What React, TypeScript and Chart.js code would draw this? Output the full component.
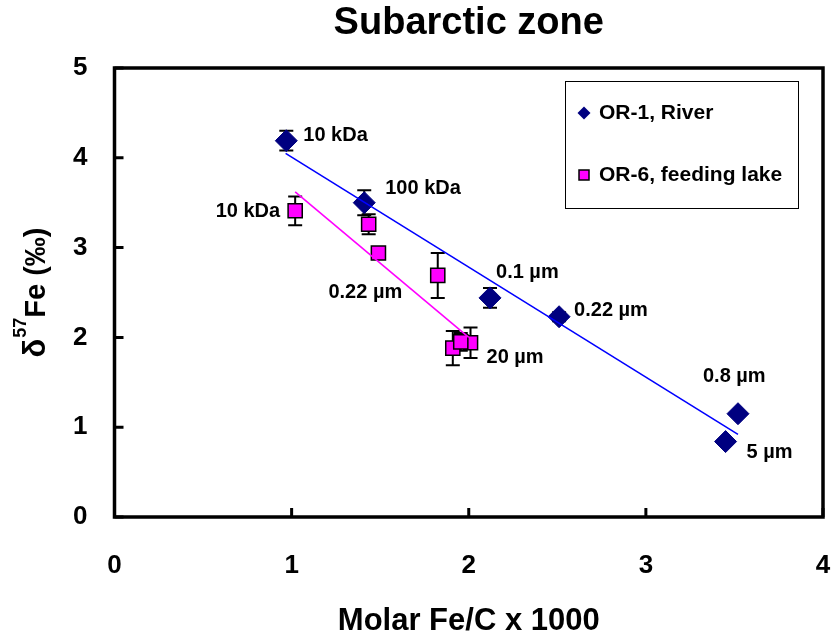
import React, { useEffect, useRef } from "react";
import { Chart, registerables } from "chart.js";

Chart.register(...registerables);

// ---- data ----
const riverX = [0.97, 1.41, 2.12, 2.51, 3.52, 3.45];
const riverY = [4.19, 3.5, 2.44, 2.23, 1.15, 0.84];
const riverErr = [0.11, 0.14, 0.11, 0.05, 0, 0];
const riverLabels = ["10 kDa", "100 kDa", "0.1 µm", "0.22 µm", "0.8 µm", "5 µm"];

const lakeX = [1.02, 1.435, 1.49, 1.825, 1.91, 2.01, 1.955];
const lakeY = [3.41, 3.26, 2.94, 2.69, 1.88, 1.94, 1.95];
const lakeErr = [0.16, 0.11, 0.06, 0.25, 0.19, 0.17, 0.1];
const lakeLabels = ["10 kDa", "", "0.22 µm", "", "", "20 µm", ""];

const riverTrendX = [0.966, 3.52];
const riverTrendY = [4.05, 0.92];
const lakeTrendX = [1.02, 2.0];
const lakeTrendY = [3.62, 2.0];

const xTicks = [0, 1, 2, 3, 4];
const yTicks = [0, 1, 2, 3, 4, 5];

const seriesNames = ["OR-1, River", "OR-6, feeding lake"];
const titleText = "Subarctic zone";
const xTitle = "Molar Fe/C x 1000";

// label placement relative to its point (pixels): [dx, dy, align]
const riverLabelPlace: [number, number, CanvasTextAlign][] = [
  [17, -5, "left"],
  [21, -14, "left"],
  [6, -25, "left"],
  [15, -6, "left"],
  [-35, -37, "left"],
  [21, 11, "left"],
];
const lakeLabelPlace: [number, number, CanvasTextAlign][] = [
  [-15, 1, "right"],
  [0, 0, "left"],
  [-50, 39, "left"],
  [0, 0, "left"],
  [0, 0, "left"],
  [16, 15, "left"],
  [0, 0, "left"],
];

const FONT = "'Liberation Sans', Arial, Helvetica, sans-serif";
const NAVY = "#000080";
const MAGENTA = "#FF00FF";

const pts = (xs: number[], ys: number[]) => xs.map((x, i) => ({ x, y: ys[i] }));

function drawDiamond(ctx: CanvasRenderingContext2D, x: number, y: number, r: number) {
  ctx.beginPath();
  ctx.moveTo(x, y - r);
  ctx.lineTo(x + r, y);
  ctx.lineTo(x, y + r);
  ctx.lineTo(x - r, y);
  ctx.closePath();
}

const customPlugin = {
  id: "custom",
  beforeDatasetsDraw(chart: any) {
    const ctx: CanvasRenderingContext2D = chart.ctx;
    const ys = chart.scales.y;
    const errs = [riverErr, lakeErr];
    ctx.save();
    ctx.strokeStyle = "#000";
    ctx.lineWidth = 2;
    [0, 1].forEach((di) => {
      const meta = chart.getDatasetMeta(di);
      const ds = chart.data.datasets[di];
      meta.data.forEach((el: any, i: number) => {
        const e = errs[di][i];
        if (!e) return;
        const v = ds.data[i].y;
        const top = ys.getPixelForValue(v + e);
        const bot = ys.getPixelForValue(v - e);
        const x = el.x;
        ctx.beginPath();
        ctx.moveTo(x, top);
        ctx.lineTo(x, bot);
        ctx.moveTo(x - 7, top);
        ctx.lineTo(x + 7, top);
        ctx.moveTo(x - 7, bot);
        ctx.lineTo(x + 7, bot);
        ctx.stroke();
      });
    });
    ctx.restore();
  },
  afterDatasetsDraw(chart: any) {
    const ctx: CanvasRenderingContext2D = chart.ctx;
    ctx.save();
    ctx.fillStyle = "#000";
    ctx.font = `bold 20px ${FONT}`;
    ctx.textBaseline = "middle";
    const sets: [string[], [number, number, CanvasTextAlign][]][] = [
      [riverLabels, riverLabelPlace],
      [lakeLabels, lakeLabelPlace],
    ];
    sets.forEach(([labels, place], di) => {
      const meta = chart.getDatasetMeta(di);
      meta.data.forEach((el: any, i: number) => {
        if (!labels[i]) return;
        const [dx, dy, al] = place[i];
        ctx.textAlign = al;
        ctx.fillText(labels[i], el.x + dx, el.y + dy);
      });
    });
    ctx.restore();
  },
  afterDraw(chart: any) {
    const ctx: CanvasRenderingContext2D = chart.ctx;
    const a = chart.chartArea;
    const xs = chart.scales.x;
    const ys = chart.scales.y;
    ctx.save();
    // frame
    ctx.strokeStyle = "#000";
    ctx.lineWidth = 3.5;
    ctx.strokeRect(a.left, a.top, a.right - a.left, a.bottom - a.top);
    // inward ticks
    ctx.lineWidth = 3;
    ctx.beginPath();
    xTicks.forEach((v) => {
      const px = xs.getPixelForValue(v);
      ctx.moveTo(px, a.bottom);
      ctx.lineTo(px, a.bottom - 9);
    });
    yTicks.forEach((v) => {
      const py = ys.getPixelForValue(v);
      ctx.moveTo(a.left, py);
      ctx.lineTo(a.left + 9, py);
    });
    ctx.stroke();

    // legend
    const lx = a.right - 258;
    const ly = a.top + 13;
    const lw = 233;
    const lh = 127;
    ctx.fillStyle = "#fff";
    ctx.fillRect(lx, ly, lw, lh);
    ctx.lineWidth = 1;
    ctx.strokeStyle = "#000";
    ctx.strokeRect(lx + 0.5, ly + 0.5, lw, lh);
    ctx.font = `bold 21px ${FONT}`;
    ctx.textBaseline = "middle";
    ctx.textAlign = "left";
    // entry 1
    ctx.fillStyle = NAVY;
    drawDiamond(ctx, lx + 19, ly + 32, 6.5);
    ctx.fill();
    ctx.fillStyle = "#000";
    ctx.fillText(seriesNames[0], lx + 34, ly + 32);
    // entry 2
    ctx.fillStyle = MAGENTA;
    ctx.fillRect(lx + 14, ly + 89, 10, 10);
    ctx.lineWidth = 1.5;
    ctx.strokeRect(lx + 14, ly + 89, 10, 10);
    ctx.fillStyle = "#000";
    ctx.fillText(seriesNames[1], lx + 34, ly + 94);

    // y axis title with superscript
    const cy = (a.top + a.bottom) / 2;
    const delta = `bold 31px ${FONT}`;
    const big = `bold 29px ${FONT}`;
    const small = `bold 18px ${FONT}`;
    ctx.font = delta;
    const w1 = ctx.measureText("δ").width;
    ctx.font = big;
    const w3 = ctx.measureText("Fe (‰)").width;
    ctx.font = small;
    const w2 = ctx.measureText("57").width;
    const total = w1 + w2 + w3 + 1;
    ctx.translate(45, cy);
    ctx.rotate(-Math.PI / 2);
    ctx.textBaseline = "alphabetic";
    ctx.fillStyle = "#000";
    let x0 = -total / 2;
    ctx.font = delta;
    ctx.fillText("δ", x0, 0);
    x0 += w1 + 1;
    ctx.font = small;
    ctx.fillText("57", x0, -19);
    x0 += w2;
    ctx.font = big;
    ctx.fillText("Fe (‰)", x0, 0);
    ctx.restore();
  },
};

export default function App() {
  const ref = useRef<HTMLCanvasElement>(null);

  useEffect(() => {
    if (!ref.current) return;
    const chart = new Chart(ref.current, {
      type: "scatter",
      data: {
        datasets: [
          {
            label: seriesNames[0],
            data: pts(riverX, riverY),
            pointStyle: "rectRot",
            pointRadius: 11,
            backgroundColor: NAVY,
            borderColor: NAVY,
            borderWidth: 1,
            order: 1,
          },
          {
            label: seriesNames[1],
            data: pts(lakeX, lakeY),
            pointStyle: "rect",
            pointRadius: 10,
            backgroundColor: MAGENTA,
            borderColor: "#000",
            borderWidth: 1.5,
            order: 1,
          },
          {
            label: "trend river",
            data: pts(riverTrendX, riverTrendY),
            showLine: true,
            pointRadius: 0,
            borderColor: "#0000FF",
            borderWidth: 1.6,
            order: 0,
          },
          {
            label: "trend lake",
            data: pts(lakeTrendX, lakeTrendY),
            showLine: true,
            pointRadius: 0,
            borderColor: MAGENTA,
            borderWidth: 1.6,
            order: 0,
          },
        ],
      },
      options: {
        animation: false,
        responsive: false,
        events: [],
        layout: { padding: { left: 0, top: 0, right: 10.5, bottom: 0 } },
        plugins: {
          legend: { display: false },
          tooltip: { enabled: false },
          title: {
            display: true,
            fullSize: false,
            text: titleText,
            color: "#000",
            font: { family: FONT, size: 38, weight: "bold", lineHeight: 1.2 },
            padding: { top: 1, bottom: 21.4 },
          },
        },
        scales: {
          x: {
            type: "linear",
            min: 0,
            max: 4,
            afterBuildTicks: (s: any) => {
              s.ticks = xTicks.map((v) => ({ value: v }));
            },
            afterFit: (s: any) => {
              s.height = 126;
              s.paddingLeft = 0;
              s.paddingRight = 0;
            },
            ticks: {
              autoSkip: false,
              maxRotation: 0,
              color: "#000",
              padding: 33,
              font: { family: FONT, size: 26, weight: "bold" },
            },
            grid: { display: false, drawTicks: false },
            border: { display: false },
            title: {
              display: true,
              text: xTitle,
              color: "#000",
              font: { family: FONT, size: 31, weight: "bold", lineHeight: 1.2 },
              padding: { top: 0, bottom: 3 },
            },
          },
          y: {
            type: "linear",
            min: 0,
            max: 5,
            afterBuildTicks: (s: any) => {
              s.ticks = yTicks.map((v) => ({ value: v }));
            },
            afterFit: (s: any) => {
              s.width = 114.5;
            },
            ticks: {
              autoSkip: false,
              color: "#000",
              padding: 27,
              font: { family: FONT, size: 26, weight: "bold" },
            },
            grid: { display: false, drawTicks: false },
            border: { display: false },
          },
        },
      },
      plugins: [customPlugin],
    } as any);
    return () => chart.destroy();
  }, []);

  return (
    <div style={{ position: "absolute", left: 0, top: 0, width: 835, height: 643, background: "#fff" }}>
      <canvas ref={ref} width={835} height={643} style={{ display: "block" }} />
    </div>
  );
}
